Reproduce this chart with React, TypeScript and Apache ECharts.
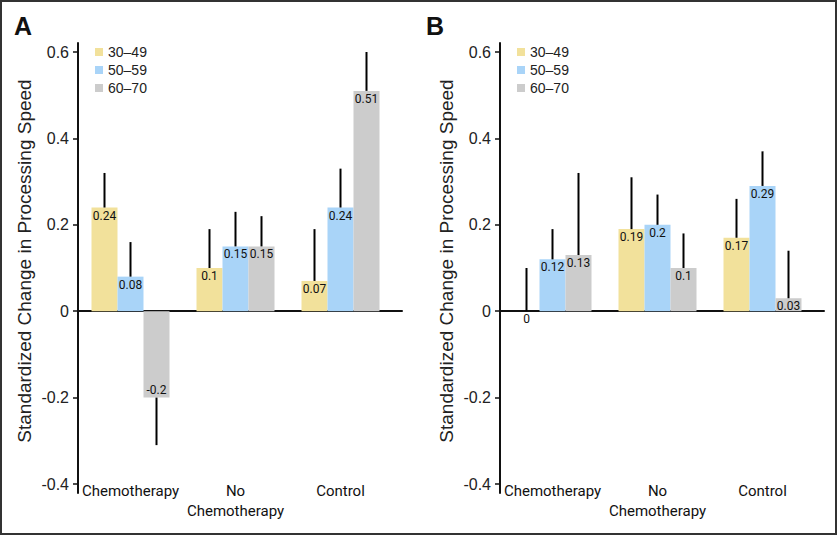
import React, { useEffect, useRef } from "react";
import * as echarts from "echarts";

const categories = ["Chemotherapy", "No\nChemotherapy", "Control"];
const seriesNames = ["30–49", "50–59", "60–70"];
const colors = ["#F2E19B", "#A9D4F8", "#CCCCCC"];

// Panel A: bar values and error-bar end values
const aValues = [
  [0.24, 0.1, 0.07],
  [0.08, 0.15, 0.24],
  [-0.2, 0.15, 0.51],
];
const aErrEnd = [
  [0.32, 0.19, 0.19],
  [0.16, 0.23, 0.33],
  [-0.31, 0.22, 0.6],
];
// Panel B
const bValues = [
  [0, 0.19, 0.17],
  [0.12, 0.2, 0.29],
  [0.13, 0.1, 0.03],
];
const bErrEnd = [
  [0.1, 0.31, 0.26],
  [0.19, 0.27, 0.37],
  [0.32, 0.18, 0.14],
];
const yTicks = [-0.4, -0.2, 0, 0.2, 0.4, 0.6];

const NARROW = 'Roboto, "Liberation Sans", sans-serif';
const SANS = '"Liberation Sans", Arial, sans-serif';
const BAR_W = 26;
const Y_MIN = yTicks[0];
const Y_MAX = yTicks[yTicks.length - 1];

export default function App() {
  const ref = useRef<HTMLDivElement>(null);
  useEffect(() => {
    if (!ref.current) return;
    const chart = echarts.init(ref.current, undefined, { renderer: "svg" });

    const panels = [
      { left: 78, values: aValues, err: aErrEnd, letter: "A", letterX: 14 },
      { left: 500, values: bValues, err: bErrEnd, letter: "B", letterX: 426 },
    ];
    const gridTop = 52;
    const gridH = 432;
    const gridW = 315;
    const ext = 9; // axis line extension in px
    const pxPerUnit = gridH / (Y_MAX - Y_MIN);
    const extUnit = ext / pxPerUnit;

    const grid: any[] = [];
    const xAxis: any[] = [];
    const yAxis: any[] = [];
    const series: any[] = [];
    const legend: any[] = [];
    const graphic: any[] = [
      {
        type: "rect",
        shape: { x: 1, y: 1, width: 835, height: 533 },
        style: { fill: "none", stroke: "#333", lineWidth: 2 },
        silent: true,
      },
    ];

    panels.forEach((p, pi) => {
      const gMain = pi * 2;
      const gLine = pi * 2 + 1;
      grid.push({ left: p.left, top: gridTop, width: gridW, height: gridH });
      grid.push({
        left: p.left,
        top: gridTop - ext,
        width: 324,
        height: gridH + 2 * ext,
      });
      xAxis.push({
        type: "category",
        gridIndex: gMain,
        data: categories,
        axisLine: { show: false, onZero: false },
        axisTick: { show: false },
        axisLabel: {
          interval: 0,
          fontFamily: NARROW,
          fontSize: 15,
          color: "#111",
          margin: -3,
          lineHeight: 20,
        },
      });
      xAxis.push({
        type: "value",
        gridIndex: gLine,
        min: 0,
        max: 1,
        axisLine: { show: true, onZero: true, lineStyle: { color: "#111", width: 2 } },
        axisTick: { show: false },
        axisLabel: { show: false },
        splitLine: { show: false },
      });
      yAxis.push({
        type: "value",
        gridIndex: gMain,
        min: Y_MIN,
        max: Y_MAX,
        interval: 0.2,
        axisLine: { show: false },
        axisTick: { show: true, length: 5, lineStyle: { color: "#111", width: 1.5 } },
        axisLabel: {
          fontFamily: SANS,
          fontSize: 16,
          color: "#222",
          margin: 9,
          formatter: (v: number) => String(Math.round(v * 10) / 10),
        },
        splitLine: { show: false },
      });
      yAxis.push({
        type: "value",
        gridIndex: gLine,
        min: Y_MIN - extUnit,
        max: Y_MAX + extUnit,
        axisLine: { show: true, onZero: false, lineStyle: { color: "#111", width: 2 } },
        axisTick: { show: false },
        axisLabel: { show: false },
        splitLine: { show: false },
      });
      const xi = pi * 2;
      const yi = pi * 2;
      seriesNames.forEach((name, si) => {
        series.push({
          type: "bar",
          name,
          xAxisIndex: xi,
          yAxisIndex: yi,
          barWidth: BAR_W,
          barGap: "0%",
          itemStyle: { color: colors[si] },
          label: {
            show: true,
            position: "insideTop",
            distance: 2,
            fontFamily: NARROW,
            fontSize: 12,
            color: "#111",
          },
          data: p.values[si].map((v) => ({
            value: v,
            label: {
              position: v < 0 ? "insideBottom" : v === 0 ? "bottom" : "insideTop",
            },
          })),
        });
      });
      seriesNames.forEach((name, si) => {
        series.push({
          type: "custom",
          name: "err-" + pi + "-" + si,
          xAxisIndex: xi,
          yAxisIndex: yi,
          encode: { x: 0, y: [1, 2] },
          data: p.values[si].map((v, ci) => [ci, v, p.err[si][ci]]),
          renderItem: (params: any, api: any) => {
            const c = api.value(0);
            const p0 = api.coord([c, api.value(1)]);
            const p1 = api.coord([c, api.value(2)]);
            const off = (si - 1) * BAR_W;
            return {
              type: "line",
              shape: { x1: p0[0] + off, y1: p0[1], x2: p0[0] + off, y2: p1[1] },
              style: { stroke: "#000", lineWidth: 2 },
            };
          },
          z: 3,
        });
      });
      legend.push({
        data: seriesNames,
        orient: "vertical",
        left: p.left + 17,
        top: 45,
        padding: 0,
        itemWidth: 8,
        itemHeight: 8,
        itemGap: 4,
        icon: "rect",
        selectedMode: false,
        textStyle: { fontFamily: SANS, fontSize: 14, color: "#222", padding: [0, 0, 0, 0] },
      });
      graphic.push({
        type: "text",
        left: p.letterX,
        top: 13,
        style: {
          text: p.letter,
          fontFamily: SANS,
          fontWeight: "bold",
          fontSize: 25,
          fill: "#111",
        },
      });
      graphic.push({
        type: "text",
        x: p.left - 54,
        y: 261,
        rotation: Math.PI / 2,
        style: {
          text: "Standardized Change in Processing Speed",
          fontFamily: SANS,
          fontSize: 19,
          fill: "#222",
          align: "center",
          verticalAlign: "middle",
        },
      });
    });

    chart.setOption({
      animation: false,
      backgroundColor: "#fff",
      grid,
      xAxis,
      yAxis,
      series,
      legend,
      graphic,
    });
    return () => chart.dispose();
  }, []);
  return (
    <div
      ref={ref}
      style={{ position: "absolute", left: 0, top: 0, width: 837, height: 535 }}
    />
  );
}
